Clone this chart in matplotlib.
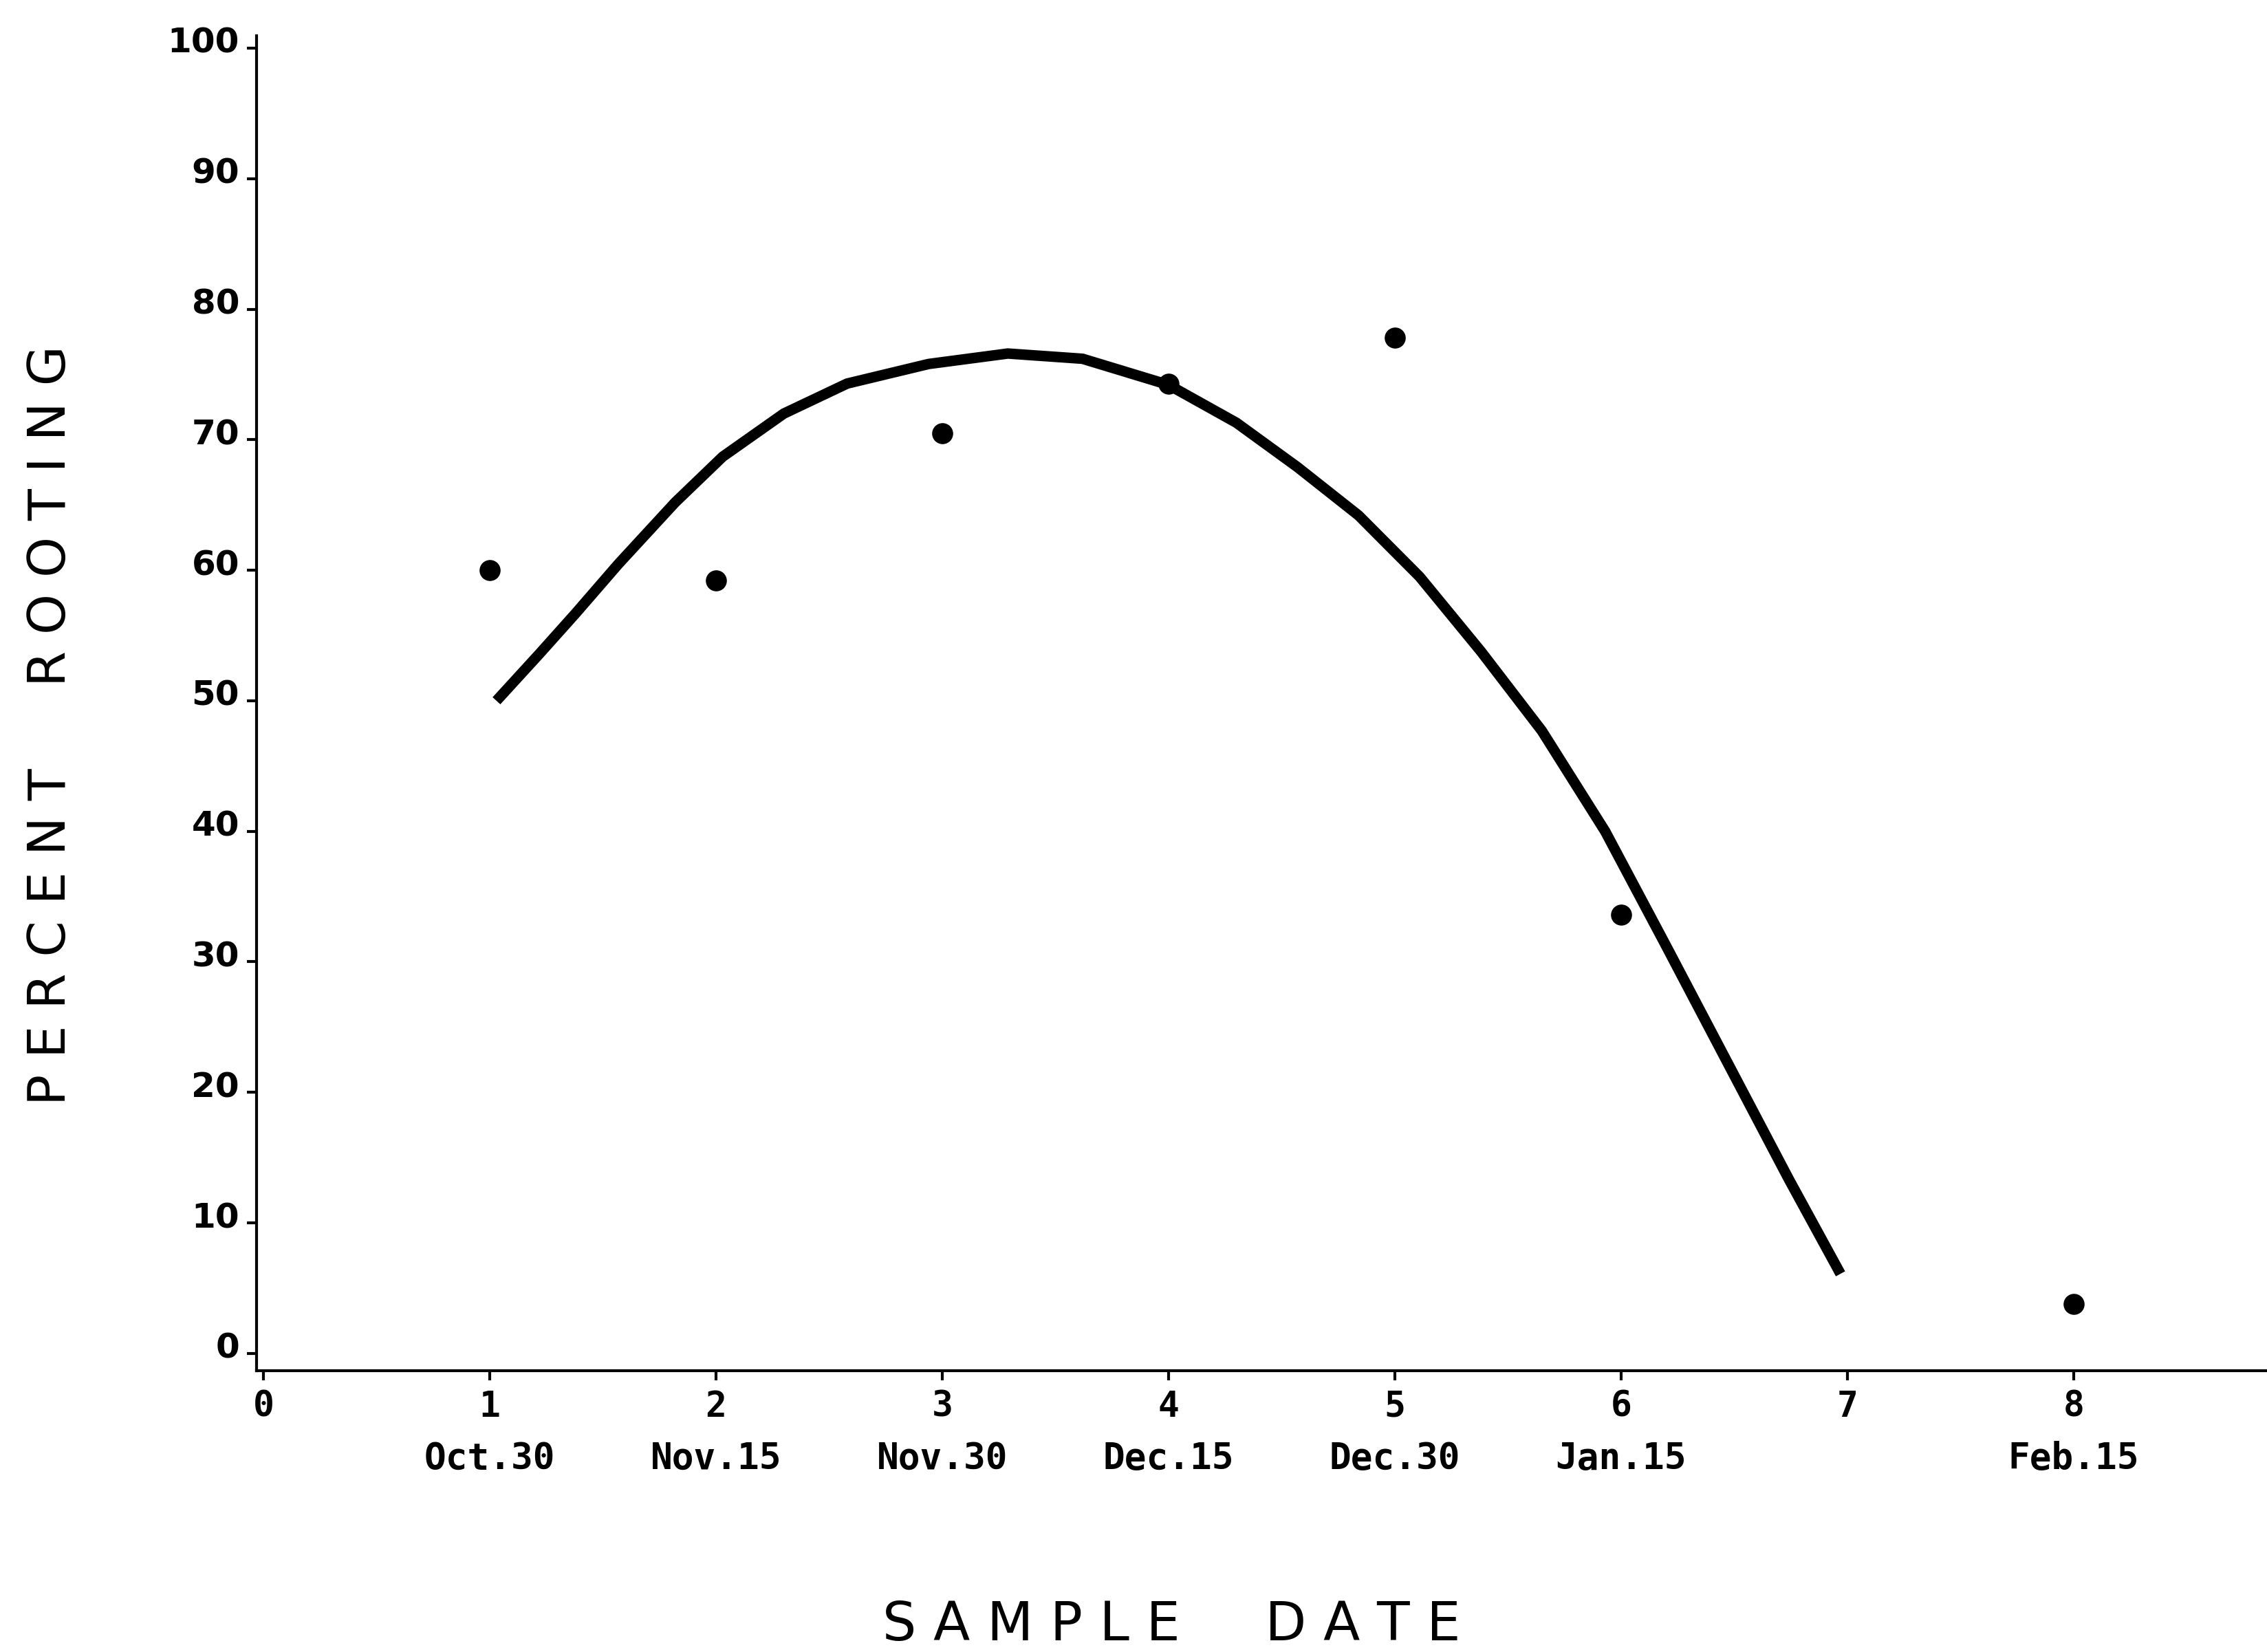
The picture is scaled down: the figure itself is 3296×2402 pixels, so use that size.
import matplotlib
matplotlib.use('Agg')
import matplotlib.pyplot as plt
import matplotlib.transforms as mtransforms

# ── data ───────────────────────────────────────────────────────────────────
SAMPLE_NO   = [1, 2, 3, 4, 5, 6, 8]
ROOTING_PCT = [60.0, 59.2, 70.5, 74.3, 77.8, 33.6, 3.8]
DATE_LABELS = ['Oct.30', 'Nov.15', 'Nov.30', 'Dec.15', 'Dec.30', 'Jan.15', 'Feb.15']

# fitted curve
FIT_X = [1.03, 1.22, 1.38, 1.57, 1.82, 2.03, 2.30, 2.58, 2.94, 3.29, 3.62,
         4.00, 4.30, 4.57, 4.84, 5.11, 5.38, 5.65, 5.93, 6.20, 6.47, 6.74,
         6.97]
FIT_Y = [50.0, 53.6, 56.7, 60.5, 65.2, 68.7, 72.0, 74.3, 75.8, 76.6, 76.2,
         74.2, 71.3, 67.9, 64.2, 59.5, 53.8, 47.7, 40.0, 31.2, 22.3, 13.4,
         6.1]

X_TICKS = list(range(0, 9))
Y_TICKS = list(range(0, 101, 10))

SANS = ['DejaVu Sans']
MONO = ['DejaVu Sans Mono']

# ── figure ─────────────────────────────────────────────────────────────────
fig = plt.figure(figsize=(32.96, 24.02), dpi=100)
ax = fig.add_axes([0.1132, 0.1703, 0.8868, 0.8081])

ax.plot(FIT_X, FIT_Y, color='black', lw=11, solid_capstyle='butt',
        solid_joinstyle='round')
ax.plot(SAMPLE_NO, ROOTING_PCT, 'o', color='black', ms=21, mew=1)

ax.set_xlim(-0.03, 8.855)
ax.set_ylim(-1.32, 100.95)
for side in ('top', 'right'):
    ax.spines[side].set_visible(False)
for side in ('left', 'bottom'):
    ax.spines[side].set_linewidth(3)

ax.set_yticks(Y_TICKS)
ax.set_yticklabels([str(v) for v in Y_TICKS], fontsize=36,
                   fontweight='bold')
ax.tick_params(axis='y', direction='out', length=10, width=3, pad=8)
# labels sit a touch above their ticks in the original
shift = mtransforms.ScaledTranslation(0, 0.12, fig.dpi_scale_trans)
for lbl in ax.get_yticklabels():
    lbl.set_transform(lbl.get_transform() + shift)

ax.set_xticks(X_TICKS)
ax.set_xticklabels([str(v) for v in X_TICKS], fontsize=37, family=MONO,
                   fontweight='bold')
ax.tick_params(axis='x', direction='out', length=10, width=3, pad=10)

for x, lbl in zip(SAMPLE_NO, DATE_LABELS):
    ax.annotate(lbl, xy=(x, 0), xycoords=('data', 'axes fraction'),
                xytext=(0, -92), textcoords='offset points',
                ha='center', va='center', fontsize=38, family=MONO,
                fontweight='bold')

fig.text(0.5167, 0.0162, 'S A M P L E     D A T E', ha='center',
         va='center', fontsize=56, family=SANS)
fig.text(0.0225, 0.5608, 'P E R C E N T     R O O T I N G', ha='center',
         va='center', rotation=90, fontsize=54, family=SANS)

fig.savefig('out.png', dpi=100)
